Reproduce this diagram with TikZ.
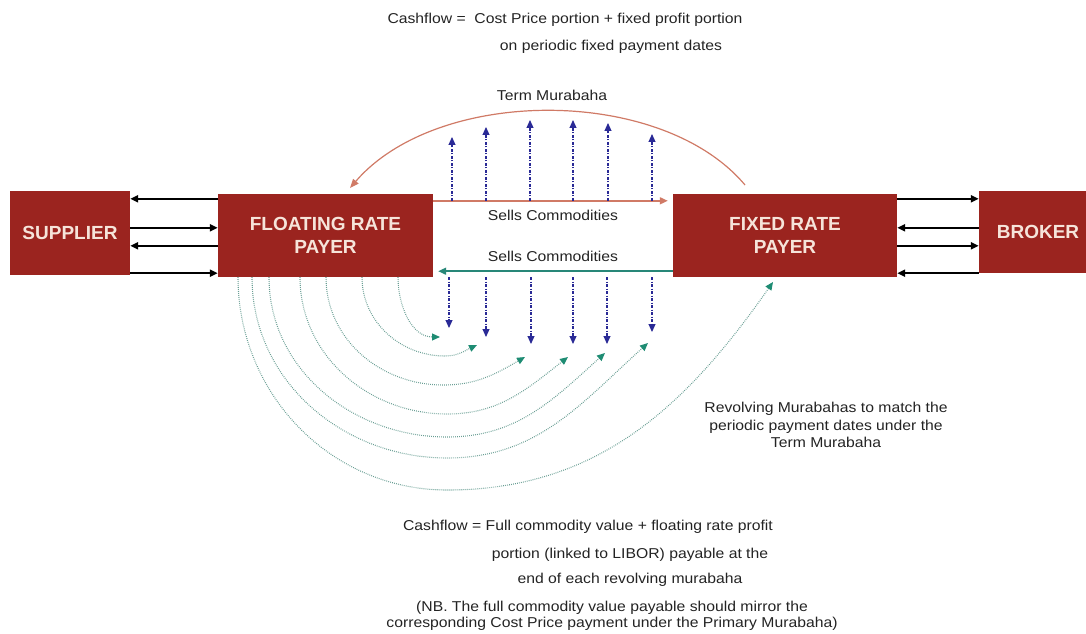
\documentclass[tikz,border=0pt]{standalone}
\usepackage{fontspec}
\setmainfont{Liberation Sans}
\newfontfamily\bodyf{Liberation Sans}[FakeStretch=1.1]
\usetikzlibrary{arrows.meta}
\definecolor{boxred}{RGB}{155,36,31}
\definecolor{boxtxt}{RGB}{246,228,218}
\definecolor{salmon}{RGB}{208,122,102}
\definecolor{tealline}{RGB}{40,135,120}
\definecolor{tealdot}{RGB}{105,158,148}
\definecolor{tealhead}{RGB}{30,140,115}
\definecolor{navy}{RGB}{42,42,150}
\definecolor{txt}{RGB}{35,35,35}
\tikzset{
  box/.style={fill=boxred, draw=none, text=boxtxt, align=center, inner sep=0pt,
    font=\fontsize{19}{23}\selectfont\bfseries},
  body/.style={text=txt, inner sep=0pt, font=\fontsize{14.3}{17}\selectfont\bodyf},
  blk/.style={draw=black, line width=2.2pt, -{Triangle[length=8pt,width=7pt]}},
  sellsA/.style={draw=salmon, line width=1.6pt, -{Triangle[length=8pt,width=7pt]}},
  sellsB/.style={draw=tealline, line width=1.6pt, -{Triangle[length=8pt,width=7pt]}},
  termarc/.style={draw=salmon, line width=1.2pt, -{Triangle[length=9pt,width=7pt]}},
  bluearrow/.style={draw=navy, line width=1.1pt, dash pattern=on 3pt off 1.5pt on 1pt off 1.5pt,
    -{Triangle[length=8pt,width=7pt]}},
  tealarc/.style={draw=tealdot, line width=1.1pt, dash pattern=on 0.8pt off 1.2pt,
    -{Triangle[length=8pt,width=7pt,color=tealhead]}}
}
\begin{document}
\begin{tikzpicture}[x=1pt,y=1pt]
\useasboundingbox (0,0) rectangle (1086,633);

% boxes
\node[box, minimum width=120pt, minimum height=84pt] (sup) at (70,400) {SUPPLIER};
\node[box, minimum width=215pt, minimum height=83pt] (flt) at (325.5,397.5) {FLOATING RATE\\PAYER};
\node[box, minimum width=224pt, minimum height=83pt] (fix) at (785,397.5) {FIXED RATE\\PAYER};
\node[box, minimum width=118pt, minimum height=82pt] (brk) at (1038,401) {BROKER};

% supplier <-> floating
\draw[blk] ([yshift=-5pt]flt.north west) -- ([yshift=-5pt]flt.north west -| sup.east);
\draw[blk] ([yshift=-34pt]flt.north west -| sup.east) -- ([yshift=-34pt]flt.north west);
\draw[blk] ([yshift=-52pt]flt.north west) -- ([yshift=-52pt]flt.north west -| sup.east);
\draw[blk] ([yshift=4pt]flt.south west -| sup.east) -- ([yshift=4pt]flt.south west);

% fixed <-> broker
\draw[blk] ([yshift=-5pt]fix.north east) -- ([yshift=-5pt]fix.north east -| brk.west);
\draw[blk] ([yshift=-34pt]fix.north east -| brk.west) -- ([yshift=-34pt]fix.north east);
\draw[blk] ([yshift=-52pt]fix.north east) -- ([yshift=-52pt]fix.north east -| brk.west);
\draw[blk] ([yshift=4pt]fix.south east -| brk.west) -- ([yshift=4pt]fix.south east);

% sells commodities
\draw[sellsA, shorten >=5pt] ([yshift=-7pt]flt.north east) -- ([yshift=-7pt]flt.north east -| fix.west)
  node[body, midway, below=9pt] (sc1) {Sells Commodities};
\draw[sellsB, shorten >=5pt] ([yshift=6pt]fix.south west) -- ([yshift=6pt]fix.south west -| flt.east)
  node[body, midway, above=9pt] (sc2) {Sells Commodities};

% term murabaha arc
\coordinate (tms) at (745,448);
\coordinate (tme) at (350,445);
\draw[termarc] (tms) .. controls (662,547) and (438,547) .. (tme);
\node[body] (tmlab) at (552,538) {Term Murabaha};

% blue up arrows
\foreach \x/\t [count=\i] in {452/496,486/506,530/513,573/513,608/510,652/499}{
  \coordinate (ua\i) at (\x,432);
  \coordinate (ub\i) at (\x,\t);
  \draw[bluearrow] (ua\i) -- (ub\i);
}
% blue down arrows
\foreach \x/\t [count=\i] in {449/305,486/296,531/289,573/289,607/289,652/301}{
  \coordinate (da\i) at (\x,356);
  \coordinate (db\i) at (\x,\t);
  \draw[bluearrow] (da\i) -- (db\i);
}

% revolving murabaha arcs
\foreach \sx/\bx/\by/\ex/\ey/\ang [count=\i] in
  {238/447/143/773/351/-125, 252/447/175/648/290/-138, 269/447/196/605/280/-138,
   300/447/219/568/276/-142, 326/443/248/525/276/-150, 362/445/277/477/288/-155}{
  \coordinate (ra\i) at (\sx,356);
  \coordinate (rb\i) at (\bx,\by);
  \coordinate (rc\i) at (\ex,\ey);
  \draw[tealarc] (ra\i) to[out=-90,in=180] (rb\i) to[out=0,in=\ang] (rc\i);
}
\coordinate (ra7) at (398,356);
\coordinate (rc7) at (440,296);
\draw[tealarc] (ra7) to[out=-90,in=180] (rc7);

% texts
\node[body] (top1) at (565,613) {Cashflow =\ \ Cost Price portion + fixed profit portion};
\node[body] (top2) at (611,586) {on periodic fixed payment dates};

\node[body, align=center, font=\fontsize{14.3}{17.5}\selectfont\bodyf] (rev) at (826,208)
  {Revolving Murabahas to match the\\periodic payment dates under the\\Term Murabaha};

\node[body] (bot1) at (588,106) {Cashflow = Full commodity value + floating rate profit};
\node[body] (bot2) at (630,78) {portion (linked to LIBOR) payable at the};
\node[body] (bot3) at (630,53) {end of each revolving murabaha};
\node[body, align=center, font=\fontsize{14.3}{15.5}\selectfont\bodyf] (nb) at (612,17)
  {(NB. The full commodity value payable should mirror the\\corresponding Cost Price payment under the Primary Murabaha)};
\end{tikzpicture}
\end{document}
